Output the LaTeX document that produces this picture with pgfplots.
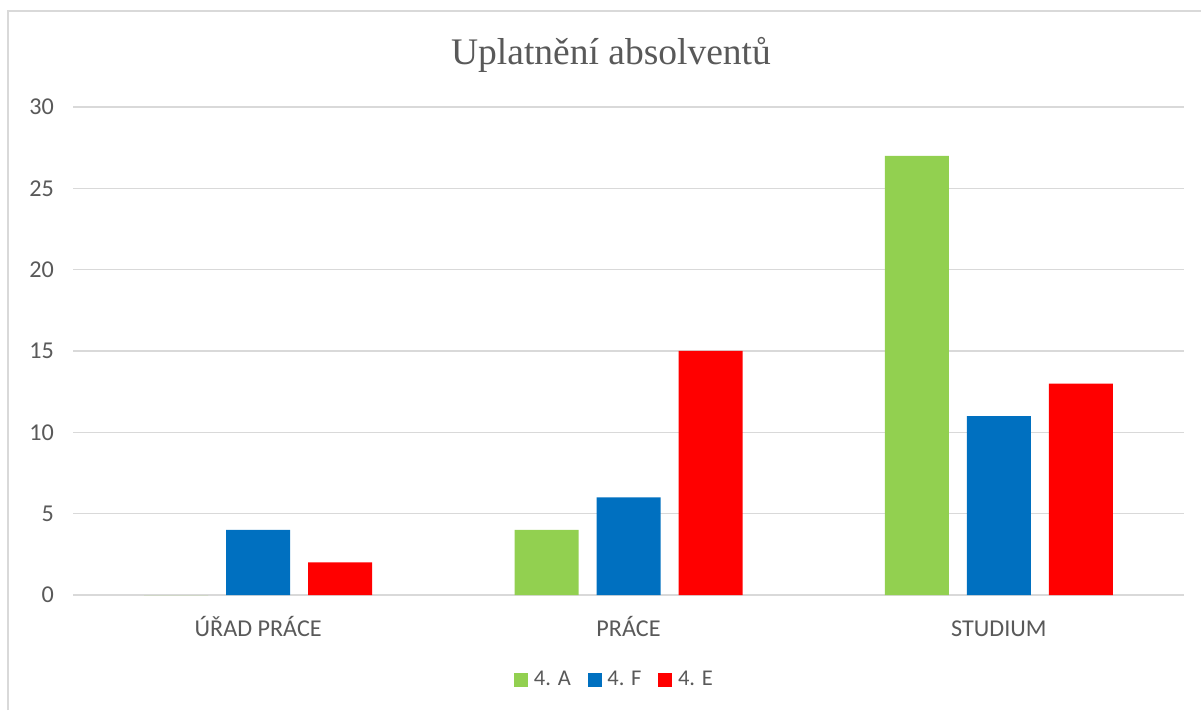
\documentclass[border=0pt]{standalone}
\usepackage{pgfplots}
\pgfplotsset{compat=1.18}
\usepackage{fontspec}
\setmainfont{Carlito}
\newfontfamily\titlefont{Liberation Serif}
\definecolor{txt}{RGB}{89,89,89}
\definecolor{gridc}{RGB}{217,217,217}
\definecolor{cA}{RGB}{146,208,80}
\definecolor{cF}{RGB}{0,112,192}
\definecolor{cE}{RGB}{255,0,0}
\begin{document}
\begin{tikzpicture}
\useasboundingbox (0,0) rectangle (720.6pt,426pt);
\draw[gridc, line width=0.9pt] (4.8pt,0) -- (4.8pt,419.4pt) -- (721pt,419.4pt);
\node[text=txt, font=\titlefont\fontsize{22.5}{27}\selectfont] at (366.6pt,393pt) {Uplatnění absolventů};
\begin{axis}[
  at={(43.8pt,69pt)}, anchor=south west,
  scale only axis, width=666.6pt, height=292.8pt,
  xmin=-0.5, xmax=2.5, ymin=0, ymax=30,
  xtick={0,1,2}, xticklabels={ÚŘAD PRÁCE, PRÁCE, STUDIUM},
  ytick={0,5,...,30},
  ymajorgrids, grid style={gridc, line width=0.9pt},
  axis line style={draw=none},
  major tick length=0pt,
  tick label style={text=txt, font=\fontsize{14.5}{16}\selectfont},
  /pgf/number format/assume math mode=true,
  yticklabel style={xshift=-8pt},
  xticklabel style={anchor=base, yshift=-24.6pt},
  ybar, bar width=38.4pt,
  legend columns=-1,
  legend style={at={(0.488,-0.174)}, anchor=center, draw=none, fill=none,
    font=\fontsize{13.5}{16}\selectfont, text=txt,
    /tikz/every even column/.append style={column sep=8pt},
    /tikz/every odd column/.append style={column sep=1.5pt}},
  legend image code/.code={\fill[#1] (0pt,-4.2pt) rectangle (8.4pt,4.2pt);},
]
\addplot[fill=cA, draw=none, bar shift=-49.2pt] coordinates {(0,0) (1,4) (2,27)};
\addplot[fill=cF, draw=none, bar shift=0pt] coordinates {(0,4) (1,6) (2,11)};
\addplot[fill=cE, draw=none, bar shift=49.2pt] coordinates {(0,2) (1,15) (2,13)};
\legend{4. A, 4. F, 4. E}
\end{axis}
\end{tikzpicture}
\end{document}
